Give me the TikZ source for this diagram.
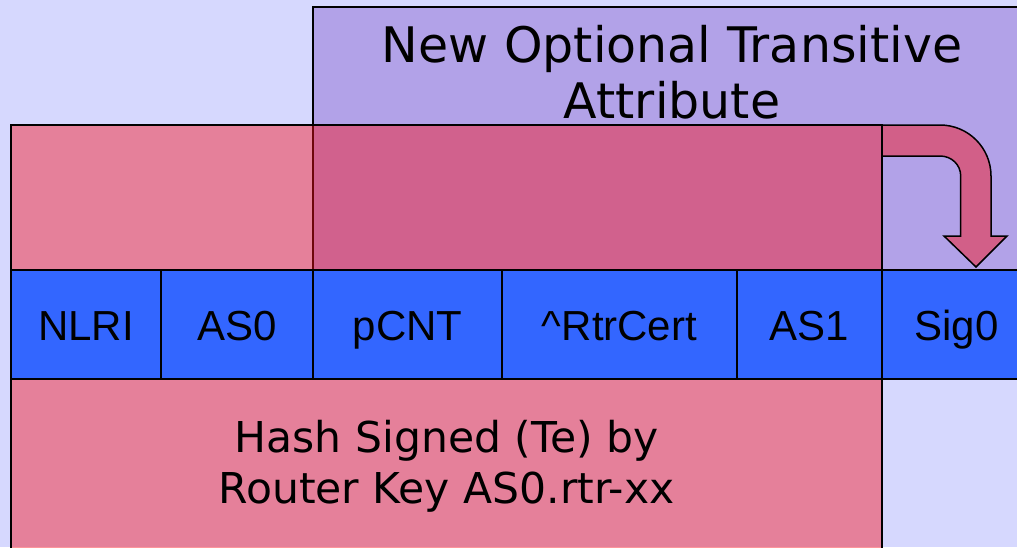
\documentclass[tikz,border=0pt]{standalone}
\usepackage{fontspec}
\setmainfont{DejaVu Sans}
\newfontfamily\cellfont{Liberation Sans}
\definecolor{bg}{HTML}{D6D8FE}
\definecolor{attr}{HTML}{B2A2E8}
\definecolor{hashred}{RGB}{250,16,27}
\definecolor{field}{HTML}{3366FF}
\definecolor{arrowpink}{HTML}{D25F88}
\begin{document}
\begin{tikzpicture}[x=1pt,y=-1pt,
  box/.style={draw=black, line width=1.5pt, inner sep=0pt, outer sep=0pt, anchor=north west},
  cell/.style={box, fill=field, minimum height=109pt, text height=32.4pt, text depth=0pt,
               font=\cellfont\fontsize{42}{42}\selectfont},
  label/.style={align=center, inner sep=0pt, anchor=base}]
  % canvas
  \fill[bg] (0,0) rectangle (1017,547);
  \useasboundingbox (0,0) rectangle (1017,547);
  \clip (0,0) rectangle (1017,547);

  % attribute block and translucent hash block
  \node[box, fill=attr, minimum width=718pt, minimum height=300pt] (attr) at (313,7) {};
  \node[box, fill=hashred, fill opacity=0.44, minimum width=871pt, minimum height=440pt] (hash) at (11,125) {};

  % bent arrow carrying the hash into the signature
  \draw[fill=arrowpink, line width=1.5pt, line join=miter]
    (hash.north east) -- (940,125)
    .. controls (968.2,125) and (991,147.8) .. (991,176)
    -- (991,236) -- (1007,236) -- (976,267) -- (944,236) -- (960.7,236) -- (960.7,176)
    .. controls (960.7,164.6) and (951.4,156) .. (940,156)
    -- (882,156) -- cycle;

  % field row
  \node[cell, minimum width=150pt] (nlri) at (11,270) {NLRI};
  \node[cell, minimum width=152pt] (as0)  at (161,270) {AS0};
  \node[cell, minimum width=189pt] (pcnt) at (313,270) {pCNT};
  \node[cell, minimum width=235pt] (cert) at (502,270) {\^{}RtrCert};
  \node[cell, minimum width=145pt] (as1)  at (737,270) {AS1};
  \node[cell, minimum width=149pt] (sig0) at (882,270) {Sig0};

  % captions (anchored on the baseline of the last line)
  \node[label, font=\fontsize{49}{56}\selectfont] (attrtext) at (672,118)
    {New Optional Transitive\\Attribute};
  \node[label, font=\fontsize{42.5}{51}\selectfont] (hashtext) at (446.5,503)
    {Hash Signed (Te) by\\Router Key AS0.rtr-xx};
\end{tikzpicture}
\end{document}
